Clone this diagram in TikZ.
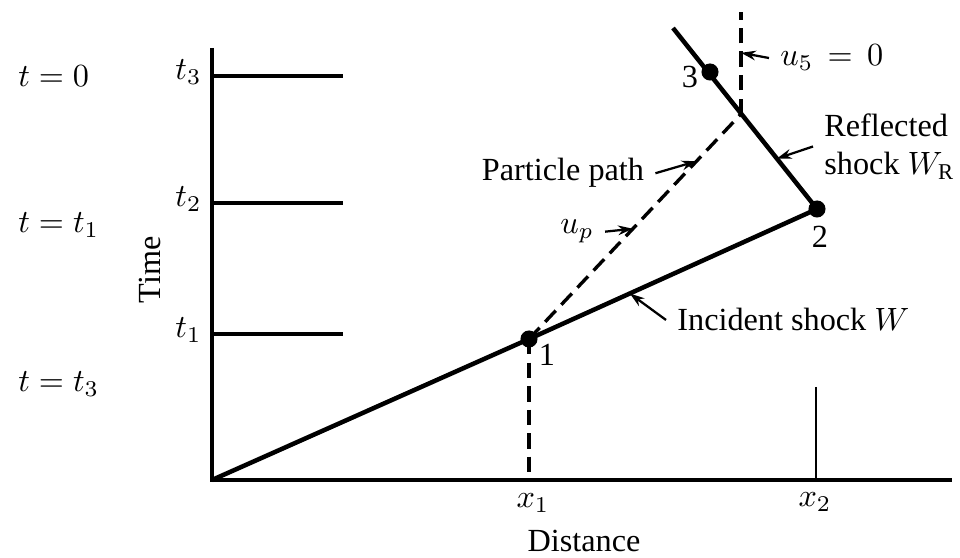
\documentclass[tikz,border=0pt]{standalone}
\usepackage{fontspec}
\setmainfont{Liberation Serif}
\usetikzlibrary{arrows.meta,calc}
\tikzset{
  axis/.style   ={line width=0.95pt},
  tick/.style   ={line width=0.7pt},
  shock/.style  ={line width=1.4pt},
  ppath/.style  ={line width=1.05pt,dash pattern=on 4.8pt off 2.5pt},
  dot/.style    ={circle,fill,minimum size=5.3pt,inner sep=0pt},
  pointer/.style={-{Stealth[length=4.6pt,width=3pt]},line width=0.7pt},
  lbl/.style    ={font=\normalsize},
}
\begin{document}
\begin{tikzpicture}[x=0.109mm,y=-0.109mm]
  \useasboundingbox (0,0) rectangle (960,558);
  % axes
  \coordinate (o) at (212,480);
  \coordinate (ytop) at (212,48);
  \coordinate (xend) at (952,480);
  \draw[axis] (ytop) -- (o) -- (xend);
  % time levels
  \foreach \y/\n in {76/3,203/2,334/1}{
    \draw[axis] (212,\y) -- (343,\y);
    \node[lbl,anchor=base east] (t\n) at (213,\y+4) {$t_\n$};
  }
  % left column
  \node[lbl,anchor=base west] (s0) at (7,87)  {$t = 0$};
  \node[lbl,anchor=base west] (s1) at (7,233) {$t = t_1$};
  \node[lbl,anchor=base west] (s3) at (7,392) {$t = t_3$};
  \node[lbl,rotate=90] (time) at (150,270) {Time};
  % shock points
  \node[dot] (p1) at (529,339) {};
  \node[dot] (p2) at (817,209) {};
  \node[dot] (p3) at (710,72) {};
  \coordinate (m) at (741,114);
  \coordinate (rtop) at (673,28);
  \coordinate (vtop) at (741,12);
  \node[lbl] (n1) at (547,355) {1};
  \node[lbl] (n2) at (820,237) {2};
  \node[lbl] (n3) at (690,77)  {3};
  % incident and reflected shock
  \draw[shock] (o) -- (p1.center) -- (p2.center) -- (rtop);
  % particle path
  \draw[ppath] (p1.center) -- (m);
  \draw[ppath] (m) -- (vtop);
  \draw[ppath] (p1.center) -- (p1 |- o);
  \draw[tick] (816,387) -- (816,480);
  % axis labels
  \node[lbl,anchor=base] (x1) at (533,508) {$x_1$};
  \node[lbl,anchor=base] (x2) at (815,507) {$x_2$};
  \node[lbl,anchor=base] (dist) at (584,552) {Distance};
  % labels with pointers
  \node[lbl,anchor=base] (lparticle) at (563,181) {Particle path};
  \node[lbl,anchor=base] (lup) at (577,234) {$u_p$};
  \node[lbl,anchor=base west] (lu5) at (769,66) {$u_5\,=\,0$};
  \node[lbl,anchor=north west,align=left] (lrefl) at (813,102) {Reflected\\shock $W_{\mathrm{R}}$};
  \node[lbl,anchor=base west] (linc) at (666,331) {Incident shock $W$};
  \draw[pointer] (lparticle.east) -- ($(p1)!0.79!(m)$);
  \draw[pointer] (lup.east) -- ($(p1)!0.49!(m)$);
  \draw[pointer] (lu5.west) -- ($(m)!0.6!(vtop)$);
  \draw[pointer] (lrefl.west) -- ($(p2)!0.53!(m)$);
  \draw[pointer] (linc.west) -- ($(p1)!0.35!(p2)$);
\end{tikzpicture}
\end{document}
